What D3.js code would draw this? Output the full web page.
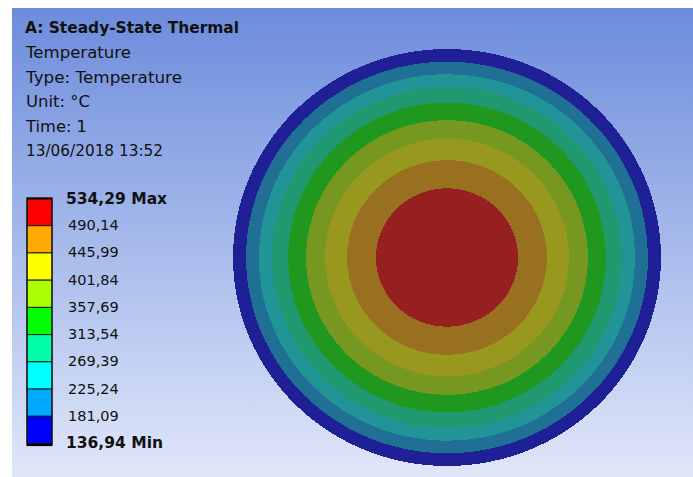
<!DOCTYPE html>
<html><head><meta charset="utf-8">
<script src="https://cdnjs.cloudflare.com/ajax/libs/d3/7.8.5/d3.min.js"></script>
<style>html,body{margin:0;padding:0;background:#fff}svg{display:block}text{font-family:"DejaVu Sans",sans-serif;fill:#111}</style>
</head><body><div id="c"></div>
<script>
const headerTitle = "A: Steady-State Thermal";
const headerLines = ["Temperature","Type: Temperature","Unit: °C","Time: 1","13/06/2018 13:52"];
const tickLabels = ["534,29 Max","490,14","445,99","401,84","357,69","313,54","269,39","225,24","181,09","136,94 Min"];
const tickValues = [534.29,490.14,445.99,401.84,357.69,313.54,269.39,225.24,181.09,136.94];
const legendColors = ["#ff0000","#ffaa00","#ffff00","#aaff00","#00ff00","#00ffaa","#00ffff","#00aaff","#0000ff"];
const bandColors = ["#962020","#98701f","#98981f","#769820","#20981f","#209870","#209496","#207096","#202096"];
// Outer radius of every temperature band, as a share of the disc radius
const bandRadii = [0.332,0.467,0.570,0.659,0.743,0.818,0.879,0.939,1];

const headerWidths=[105,156,64,61,137];
const W=693,H=477;
const svg=d3.select("#c").append("svg").attr("width",W).attr("height",H);
const defs=svg.append("defs");
const g=defs.append("linearGradient").attr("id","bg").attr("x1",0).attr("x2",0).attr("y1",0).attr("y2",1);
g.append("stop").attr("offset",0).attr("stop-color","#6c8cdc");
g.append("stop").attr("offset",1).attr("stop-color","#e0e7f9");
svg.append("rect").attr("x",12).attr("y",8).attr("width",W-12).attr("height",H-8).attr("fill","url(#bg)");

const rx=d3.scaleLinear().domain([0,1]).range([0,214]);
const ry=d3.scaleLinear().domain([0,1]).range([0,208.5]);
svg.append("g").attr("transform","translate(447,257.5)")
  .selectAll("ellipse").data(d3.range(bandRadii.length).reverse()).join("ellipse")
  .attr("rx",i=>rx(bandRadii[i])).attr("ry",i=>ry(bandRadii[i])).attr("fill",i=>bandColors[i])
  .attr("shape-rendering","crispEdges");

svg.append("text").attr("x",25).attr("y",33).attr("font-size",15.2).attr("font-weight",700).attr("textLength",214).attr("lengthAdjust","spacingAndGlyphs").text(headerTitle);
svg.selectAll("text.h").data(headerLines).join("text").attr("class","h")
  .attr("x",26).attr("y",(d,i)=>58+i*24.6).attr("font-size",15)
  .attr("textLength",(d,i)=>headerWidths[i]).attr("lengthAdjust","spacingAndGlyphs").text(d=>d);

const y=d3.scaleLinear().domain([534.29,136.94]).range([198.5,443.5]);
svg.selectAll("rect.l").data(legendColors).join("rect").attr("class","l")
  .attr("x",27).attr("width",25)
  .attr("y",(d,i)=>y(tickValues[i])).attr("height",(d,i)=>y(tickValues[i+1])-y(tickValues[i]))
  .attr("fill",d=>d).attr("stroke","#1a1a1a").attr("stroke-width",1);
svg.append("rect").attr("x",27).attr("y",198).attr("width",25).attr("height",247.5).attr("fill","none").attr("stroke","#111").attr("stroke-width",1.2);
svg.append("line").attr("x1",27).attr("x2",52).attr("y1",444.8).attr("y2",444.8).attr("stroke","#000").attr("stroke-width",2.4);
svg.append("line").attr("x1",27).attr("x2",52).attr("y1",198.6).attr("y2",198.6).attr("stroke","#000").attr("stroke-width",1.8);
svg.selectAll("text.t").data(tickLabels).join("text").attr("class","t")
  .attr("x",(d,i)=>(i===0||i===9)?66:68)
  .attr("y",(d,i)=>y(tickValues[i])+(i===0?5:4.5))
  .attr("font-size",(d,i)=>(i===0||i===9)?15.5:14.5)
  .attr("font-weight",(d,i)=>(i===0||i===9)?700:400).text(d=>d);
</script></body></html>
